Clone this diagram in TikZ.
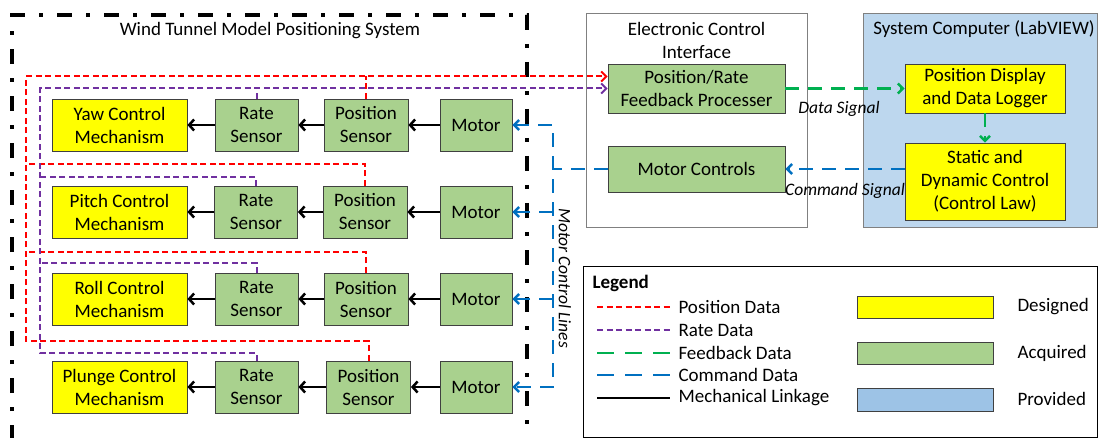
\documentclass[tikz,border=0pt]{standalone}
\usepackage{fontspec}
\setmainfont{Carlito}
\usetikzlibrary{arrows.meta, positioning}

\definecolor{designyellow}{HTML}{FFFF00}
\definecolor{acqgreen}{HTML}{A9D18E}
\definecolor{provblue}{HTML}{9DC3E6}
\definecolor{panelblue}{HTML}{BDD7EE}
\definecolor{posred}{HTML}{FF0000}
\definecolor{ratepurple}{HTML}{7030A0}
\definecolor{feedgreen}{HTML}{00B050}
\definecolor{cmdblue}{HTML}{0070C0}

\tikzset{
  block/.style={draw=black!75, line width=0.8pt, align=center, minimum height=52pt, inner sep=1pt},
  designed/.style={block, fill=designyellow},
  acquired/.style={block, fill=acqgreen},
  panel/.style={draw=black!50, line width=0.8pt},
  mech/.style={-{Straight Barb[length=5pt,width=11pt]}, line width=2.5pt},
  dataarrow/.style={-{Straight Barb[length=5pt,width=10pt]}},
  posdata/.style={draw=posred, line width=2pt, dash pattern=on 6pt off 3.5pt},
  ratedata/.style={draw=ratepurple, line width=2pt, dash pattern=on 6pt off 3.5pt},
  feeddata/.style={draw=feedgreen, line width=2.5pt, dash pattern=on 14pt off 9pt},
  cmddata/.style={draw=cmdblue, line width=2.5pt, dash pattern=on 14pt off 9pt},
  frame/.style={line width=4pt, dash pattern=on 15pt off 14pt on 4pt off 14pt},
  siglabel/.style={font=\itshape\fontsize{17.5}{21}\selectfont},
}

\begin{document}
\begin{tikzpicture}[x=1pt, y=-1pt, font=\fontsize{19}{23}\selectfont]
  \useasboundingbox (0,0) rectangle (1099,438);

  % positioning system frame
  \draw[frame] (12,440) -- (12,15) -- (527,15) -- (527,440);
  \node (wtmps) at (270,31) {Wind Tunnel Model Positioning System};

  % control interface and computer panels
  \node[panel, minimum width=221pt, minimum height=214pt] (eci) at (696.5,120) {};
  \node[align=center] (ecititle) at (696.5,40) {Electronic Control\\Interface};
  \node[panel, fill=panelblue, minimum width=234pt, minimum height=214pt] (syscomp) at (980,120) {};
  \node (sctitle) at (984,29) {System Computer (LabVIEW)};

  % four axes
  \node[designed, minimum width=135pt] (yaw) at (119.5,125) {Yaw Control\\Mechanism};
  \node[acquired, minimum width=83pt] (yawrate) at (256.5,125) {Rate\\Sensor};
  \node[acquired, minimum width=84pt] (yawpos) at (366,125) {Position\\Sensor};
  \node[acquired, minimum width=72pt] (yawmotor) at (476,125) {Motor};

  \node[designed, minimum width=135pt] (pitch) at (119.5,212) {Pitch Control\\Mechanism};
  \node[acquired, minimum width=83pt] (pitchrate) at (256,212) {Rate\\Sensor};
  \node[acquired, minimum width=84pt] (pitchpos) at (365,212) {Position\\Sensor};
  \node[acquired, minimum width=72pt] (pitchmotor) at (476,212) {Motor};

  \node[designed, minimum width=135pt] (roll) at (119.5,299) {Roll Control\\Mechanism};
  \node[acquired, minimum width=83pt] (rollrate) at (256.5,299) {Rate\\Sensor};
  \node[acquired, minimum width=84pt] (rollpos) at (366,299) {Position\\Sensor};
  \node[acquired, minimum width=72pt] (rollmotor) at (476,299) {Motor};

  \node[designed, minimum width=135pt] (plunge) at (119.5,387) {Plunge Control\\Mechanism};
  \node[acquired, minimum width=83pt] (plungerate) at (256.5,387) {Rate\\Sensor};
  \node[acquired, minimum width=84pt] (plungepos) at (368.5,387) {Position\\Sensor};
  \node[acquired, minimum width=72pt] (plungemotor) at (476,387) {Motor};

  % mechanical linkage
  \draw[mech] (yawmotor) -- (yawpos);
  \draw[mech] (yawpos) -- (yawrate);
  \draw[mech] (yawrate) -- (yaw);
  \draw[mech] (pitchmotor) -- (pitchpos);
  \draw[mech] (pitchpos) -- (pitchrate);
  \draw[mech] (pitchrate) -- (pitch);
  \draw[mech] (rollmotor) -- (rollpos);
  \draw[mech] (rollpos) -- (rollrate);
  \draw[mech] (rollrate) -- (roll);
  \draw[mech] (plungemotor) -- (plungepos);
  \draw[mech] (plungepos) -- (plungerate);
  \draw[mech] (plungerate) -- (plunge);

  % interface blocks
  \node[acquired, minimum width=177pt, minimum height=49pt] (proc) at (696.5,88.5) {Position/Rate\\Feedback Processer};
  \node[acquired, minimum width=177pt, minimum height=46pt] (motorctl) at (696.5,169) {Motor Controls};
  \node[designed, minimum width=160pt, minimum height=49pt] (display) at (985,88.5) {Position Display\\and Data Logger};
  \node[designed, minimum width=160pt, minimum height=77pt] (ctrllaw) at (985,181.5) {Static and\\Dynamic Control\\(Control Law)};

  \coordinate (redin) at ([yshift=12pt]proc.west);
  \coordinate (purplein) at (proc.west);

  % position data
  \draw[posdata, dataarrow] (plungepos.north) |- (26,341) |- (redin);
  \draw[posdata] (rollpos.north) |- (26,252);
  \draw[posdata] (pitchpos.north) |- (26,164);
  \draw[posdata] (yawpos.north) -- (yawpos.north |- redin);

  % rate data
  \draw[ratedata, dataarrow] (plungerate.north) |- (40,353) |- (purplein);
  \draw[ratedata] (rollrate.north) |- (40,263);
  \draw[ratedata] (pitchrate.north) |- (40,177);
  \draw[ratedata] (yawrate.north) -- (yawrate.north |- purplein);

  % feedback and command signals
  \draw[feeddata, dataarrow] (proc.east) -- (display.west)
    node[siglabel, midway, below=8pt, xshift=-6pt] (datasig) {Data Signal};
  \draw[feeddata, dataarrow] (display.south) -- (ctrllaw.north);
  \draw[cmddata, dataarrow] (ctrllaw.west |- motorctl.east) -- (motorctl.east)
    node[siglabel, midway, below=10pt] (cmdsig) {Command Signal};

  % motor control lines
  \coordinate (mclbus) at (553,169);
  \draw[cmddata] (motorctl.west) -- (mclbus);
  \draw[cmddata, {Straight Barb[length=5pt,width=10pt]}-{Straight Barb[length=5pt,width=10pt]}]
    (yawmotor.east) -| (mclbus |- plungemotor) -- (plungemotor.east);
  \draw[cmddata, dataarrow] (mclbus |- pitchmotor) -- (pitchmotor.east);
  \draw[cmddata, dataarrow] (mclbus |- rollmotor) -- (rollmotor.east);
  \node[siglabel, rotate=-90] (mcllabel) at (565,278) {Motor Control Lines};

  % legend
  \node[draw, line width=1pt, minimum width=514pt, minimum height=171pt] (legend) at (840,351.5) {};
  \node[font=\bfseries\fontsize{19}{23}\selectfont, anchor=west] (lgtitle) at (589,283) {Legend};
  \node[anchor=west] (lgpos) at (675,307) {Position Data};
  \node[anchor=west] (lgrate) at (675,330) {Rate Data};
  \node[anchor=west] (lgfeed) at (675,353) {Feedback Data};
  \node[anchor=west] (lgcmd) at (675,375) {Command Data};
  \node[anchor=west] (lgmech) at (675,398) {Mechanical Linkage};
  \draw[posdata] ([xshift=-78pt]lgpos.west) -- ([xshift=-5pt]lgpos.west);
  \draw[ratedata] ([xshift=-78pt]lgrate.west) -- ([xshift=-5pt]lgrate.west);
  \draw[feeddata, dash pattern=on 17pt off 11pt] ([xshift=-78pt]lgfeed.west) -- ([xshift=-5pt]lgfeed.west);
  \draw[cmddata, dash pattern=on 17pt off 11pt] ([xshift=-78pt]lgcmd.west) -- ([xshift=-5pt]lgcmd.west);
  \draw[line width=1.2pt] ([xshift=-78pt]lgmech.west) -- ([xshift=-5pt]lgmech.west);

  \node[designed, minimum width=136pt, minimum height=22pt] (swdes) at (925,307) {};
  \node[acquired, minimum width=136pt, minimum height=22pt] (swacq) at (925,353) {};
  \node[block, fill=provblue, minimum width=136pt, minimum height=23pt] (swprov) at (925,399.5) {};
  \node[anchor=west] (lgdes) at (1014,307) {Designed};
  \node[anchor=west] (lgacq) at (1014,353) {Acquired};
  \node[anchor=west] (lgprov) at (1014,399) {Provided};
\end{tikzpicture}
\end{document}
